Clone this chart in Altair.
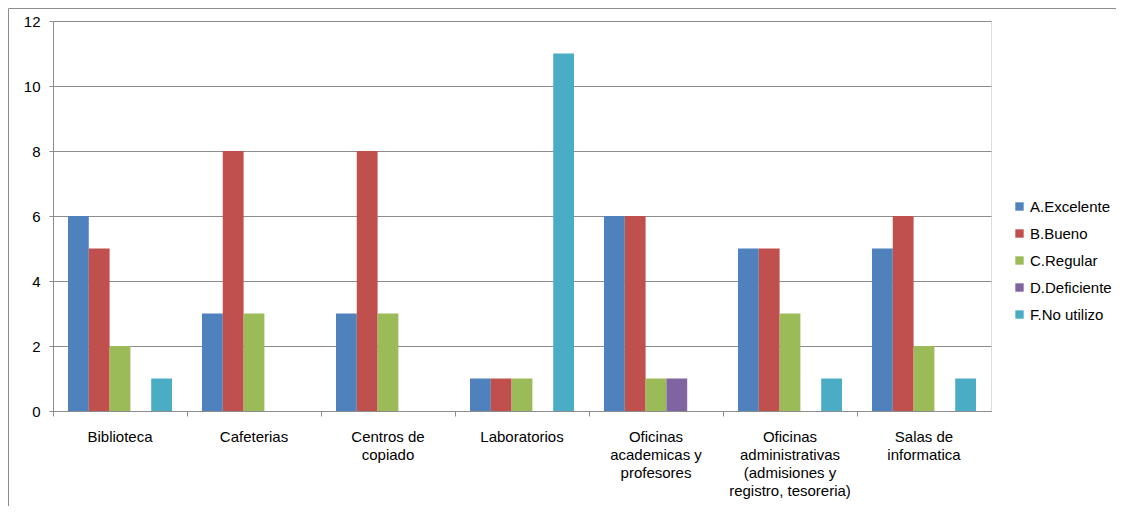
import altair as alt
import pandas as pd

categories = [
    "Biblioteca",
    "Cafeterias",
    "Centros de copiado",
    "Laboratorios",
    "Oficinas academicas y profesores",
    "Oficinas administrativas (admisiones y registro, tesoreria)",
    "Salas de informatica",
]
series = ["A.Excelente", "B.Bueno", "C.Regular", "D.Deficiente", "F.No utilizo"]
colors = ["#4F81BD", "#C0504D", "#9BBB59", "#8064A2", "#4BACC6"]

excelente = [6, 3, 3, 1, 6, 5, 5]
bueno = [5, 8, 8, 1, 6, 5, 6]
regular = [2, 3, 3, 1, 1, 3, 2]
deficiente = [0, 0, 0, 0, 1, 0, 0]
no_utilizo = [1, 0, 0, 11, 0, 1, 1]

values = [excelente, bueno, regular, deficiente, no_utilizo]
rows = []
for s, vals in zip(series, values):
    for c, v in zip(categories, vals):
        rows.append({"Categoria": c, "Serie": s, "Valor": v})
df = pd.DataFrame(rows)

label_expr = (
    "datum.value == 'Centros de copiado' ? ['Centros de', 'copiado'] : "
    "datum.value == 'Oficinas academicas y profesores' ? ['Oficinas', 'academicas y', 'profesores'] : "
    "datum.value == 'Oficinas administrativas (admisiones y registro, tesoreria)' ? "
    "['Oficinas', 'administrativas', '(admisiones y', 'registro, tesoreria)'] : "
    "datum.value == 'Salas de informatica' ? ['Salas de', 'informatica'] : datum.value"
)

font = "Liberation Sans"
fsize = 15
gray = "#8C8C8C"

bars = alt.Chart(df).mark_bar(strokeWidth=0).encode(
    x=alt.X(
        "Categoria:N",
        sort=categories,
        title=None,
        scale=alt.Scale(paddingInner=0, paddingOuter=0),
        axis=alt.Axis(
            labelAngle=0,
            labelExpr=label_expr,
            bandPosition=0,
            tickSize=5,
            labelPadding=13,
            labelLineHeight=18,
            labelFontSize=fsize,
            labelColor="#000000",
            labelFont=font,
            domainColor=gray,
            tickColor=gray,
            grid=False,
            labelBaseline="top",
        ),
    ),
    xOffset=alt.XOffset(
        "Serie:N",
        sort=series,
        scale=alt.Scale(paddingInner=0, paddingOuter=0.72),
    ),
    y=alt.Y(
        "Valor:Q",
        title=None,
        scale=alt.Scale(domain=[0, 12]),
        axis=alt.Axis(
            values=[0, 2, 4, 6, 8, 10, 12],
            tickSize=4,
            labelPadding=9,
            labelFontSize=fsize,
            labelColor="#000000",
            labelFont=font,
            domainColor=gray,
            tickColor=gray,
            gridColor=gray,
            gridWidth=1,
        ),
    ),
    color=alt.Color(
        "Serie:N",
        sort=series,
        scale=alt.Scale(domain=series, range=colors),
        legend=alt.Legend(
            title=None,
            orient="none",
            legendX=959,
            legendY=178,
            symbolType="square",
            symbolSize=70,
            symbolStrokeWidth=0,
            labelFontSize=fsize,
            labelFont=font,
            labelColor="#000000",
            rowPadding=11,
            labelOffset=3,
        ),
    ),
)

frame_df = pd.DataFrame({"f": [0]})
left_line = alt.Chart(frame_df).mark_rule(color=gray, strokeWidth=1).encode(
    x=alt.value(-44.5),
    y=alt.value(-12.5),
    y2=alt.value(600),
)
top_line = alt.Chart(frame_df).mark_rule(color=gray, strokeWidth=1).encode(
    x=alt.value(-44.5),
    x2=alt.value(1200),
    y=alt.value(-12.5),
)

chart = alt.layer(left_line, top_line, bars).properties(
    width=938,
    height=390,
    autosize=alt.AutoSizeParams(type="none"),
    padding={"left": 45, "top": 13, "right": 125, "bottom": 95},
).configure_view(stroke=None).configure(background="white")

chart.save("out.html", embed_options={"renderer": "svg", "actions": False})
